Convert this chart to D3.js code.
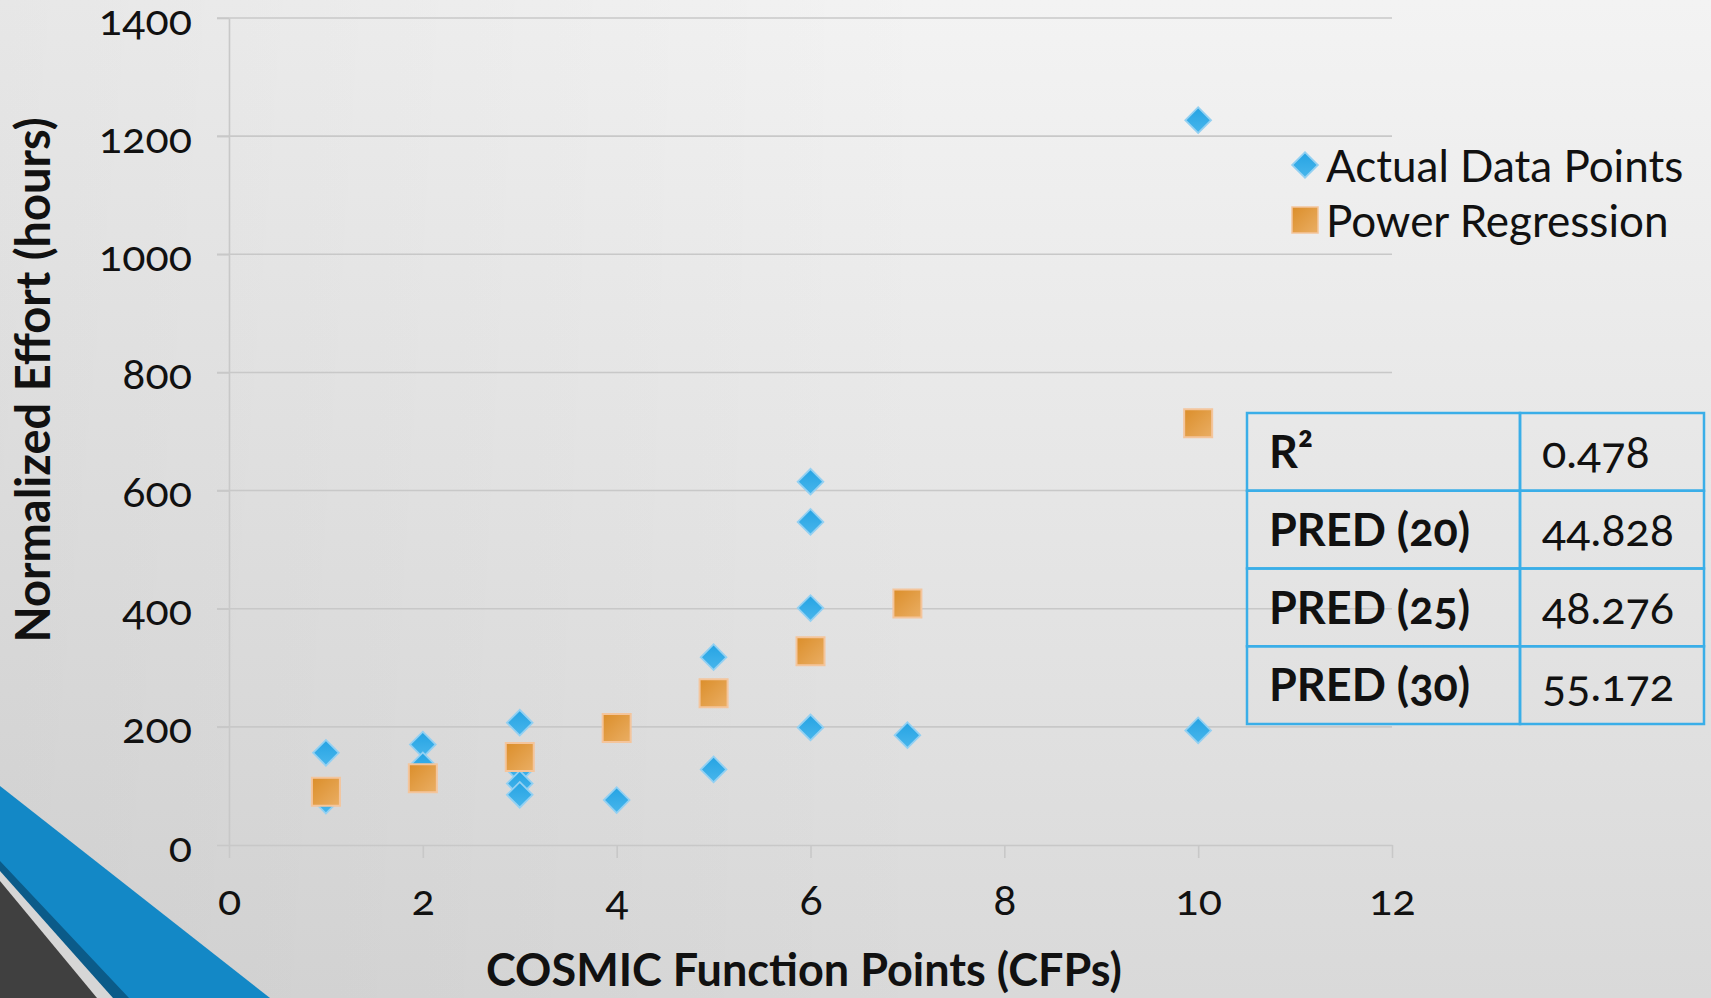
<!DOCTYPE html>
<html>
<head>
<meta charset="utf-8">
<script src="https://cdn.jsdelivr.net/npm/d3@7"></script>
<style>
  html, body { margin: 0; padding: 0; overflow: hidden; background: #e6e6e6; }
  svg { display: block; font-family: Lato, "Open Sans", sans-serif; }
  .num { font-variant-numeric: oldstyle-nums; }
</style>
</head>
<body>
<svg id="chart"></svg>
<script>
const width = 1711;
const height = 998;

// actual observations (CFP, hours)
const actualX = [1, 1, 2, 2, 3, 3, 3, 3, 4, 5, 5, 6, 6, 6, 6, 7, 10, 10];
const actualY = [156, 75, 170, 135, 207, 127, 104, 85, 76, 318, 128, 615, 547, 401, 199, 186, 1227, 194];

// power regression estimates
const regX = [1, 2, 3, 4, 5, 6, 7, 10];
const regY = [90, 113, 149, 198, 257, 328, 409, 714];

const xTicks = [0, 2, 4, 6, 8, 10, 12];
const yTicks = [0, 200, 400, 600, 800, 1000, 1200, 1400];

const legendLabels = ["Actual Data Points", "Power Regression"];
const statNames = ["R²", "PRED (20)", "PRED (25)", "PRED (30)"];
const statValues = ["0.478", "44.828", "48.276", "55.172"];

const svg = d3.select("#chart").attr("width", width).attr("height", height);
const defs = svg.append("defs");

// background
const bg = defs.append("linearGradient").attr("id", "bg").attr("x1", 0).attr("y1", 0).attr("x2", 0).attr("y2", 1);
bg.append("stop").attr("offset", 0).attr("stop-color", "#f3f3f3");
bg.append("stop").attr("offset", 1).attr("stop-color", "#d9d9d9");
const shade = defs.append("linearGradient").attr("id", "shade").attr("x1", 0).attr("y1", 0).attr("x2", 1).attr("y2", 0);
shade.append("stop").attr("offset", 0).attr("stop-color", "#000").attr("stop-opacity", 0.05);
shade.append("stop").attr("offset", 0.55).attr("stop-color", "#000").attr("stop-opacity", 0);

svg.append("rect").attr("width", width).attr("height", height).attr("fill", "url(#bg)");
svg.append("rect").attr("width", width).attr("height", height).attr("fill", "url(#shade)");

// marker fills
const blueGrad = defs.append("linearGradient").attr("id", "blueFill").attr("x1", 0).attr("y1", 0).attr("x2", 1).attr("y2", 1);
blueGrad.append("stop").attr("offset", 0).attr("stop-color", "#25a3e3");
blueGrad.append("stop").attr("offset", 1).attr("stop-color", "#48b6ec");
const orangeGrad = defs.append("linearGradient").attr("id", "orangeFill").attr("x1", 0).attr("y1", 0).attr("x2", 1).attr("y2", 1);
orangeGrad.append("stop").attr("offset", 0).attr("stop-color", "#db8e2a");
orangeGrad.append("stop").attr("offset", 1).attr("stop-color", "#eaae64");

// corner decoration (slide theme)
const corner = svg.append("g");
corner.append("polygon").attr("points", "0,786 270,998 0,998").attr("fill", "#1388c6");
corner.append("polygon").attr("points", "0,861 129,998 0,998").attr("fill", "#0b5b89");
corner.append("polygon").attr("points", "0,871 113,998 0,998").attr("fill", "#d6d6d6");
corner.append("polygon").attr("points", "0,881 97,998 0,998").attr("fill", "#404040");

const x = d3.scaleLinear().domain([0, 12]).range([229, 1392]);
const y = d3.scaleLinear().domain([0, 1400]).range([845, 18]);

const gridColor = "#c8c8c8";

// horizontal gridlines
svg.append("g")
  .selectAll("line")
  .data(yTicks.filter(d => d > 0))
  .join("line")
  .attr("x1", x(0) - 12)
  .attr("x2", x(12))
  .attr("y1", d => y(d))
  .attr("y2", d => y(d))
  .attr("stroke", gridColor)
  .attr("stroke-width", 1.6);

// axes
const yAxis = svg.append("g")
  .attr("transform", `translate(${x(0)},0)`)
  .call(d3.axisLeft(y).tickValues(yTicks).tickFormat(d3.format("d"))
    .tickSize(12).tickPadding(25).tickSizeOuter(0));
const xAxis = svg.append("g")
  .attr("transform", `translate(0,${y(0)})`)
  .call(d3.axisBottom(x).tickValues(xTicks).tickFormat(d3.format("d"))
    .tickSize(13).tickSizeOuter(0));

[yAxis, xAxis].forEach(g => {
  g.attr("font-family", null).attr("font-size", null);
  g.select(".domain").attr("stroke", gridColor).attr("stroke-width", 1.6);
  g.selectAll(".tick line").attr("stroke", gridColor).attr("stroke-width", 1.6);
  g.selectAll("text")
    .attr("class", "num")
    .attr("fill", "#111")
    .attr("font-size", 43);
});
yAxis.selectAll("text").attr("dy", 16);
xAxis.selectAll("text").attr("dy", null).attr("y", 70);

// axis titles
svg.append("text")
  .attr("transform", `translate(50,380) rotate(-90)`)
  .attr("text-anchor", "middle")
  .attr("font-weight", 700)
  .attr("font-size", 47)
  .attr("fill", "#111")
  .text("Normalized Effort (hours)");

svg.append("text")
  .attr("x", 804)
  .attr("y", 986)
  .attr("text-anchor", "middle")
  .attr("font-weight", 700)
  .attr("font-size", 45)
  .attr("fill", "#111")
  .text("COSMIC Function Points (CFPs)");

// markers
const diamond = d3.symbol().type(d3.symbolSquare).size(330);
const square = d3.symbol().type(d3.symbolSquare).size(784);

const actual = actualX.map((v, i) => ({ x: v, y: actualY[i] }));
const reg = regX.map((v, i) => ({ x: v, y: regY[i] }));

svg.append("g")
  .selectAll("path")
  .data(actual)
  .join("path")
  .attr("d", diamond)
  .attr("transform", d => `translate(${x(d.x)},${y(d.y)}) rotate(45)`)
  .attr("fill", "url(#blueFill)")
  .attr("stroke", "#93d0f2")
  .attr("stroke-width", 1.8);

svg.append("g")
  .selectAll("path")
  .data(reg)
  .join("path")
  .attr("d", square)
  .attr("transform", d => `translate(${x(d.x)},${y(d.y)})`)
  .attr("fill", "url(#orangeFill)")
  .attr("stroke", "#f4c59c")
  .attr("stroke-width", 2);

// legend
const legend = svg.append("g");
const legendRows = legend.selectAll("g")
  .data(legendLabels)
  .join("g")
  .attr("transform", (d, i) => `translate(1305,${165 + i * 55})`);
legendRows.filter((d, i) => i === 0).append("path")
  .attr("d", diamond)
  .attr("transform", "rotate(45)")
  .attr("fill", "url(#blueFill)")
  .attr("stroke", "#93d0f2")
  .attr("stroke-width", 1.8);
legendRows.filter((d, i) => i === 1).append("path")
  .attr("d", d3.symbol().type(d3.symbolSquare).size(676))
  .attr("fill", "url(#orangeFill)")
  .attr("stroke", "#f4c59c")
  .attr("stroke-width", 1.5);
legendRows.append("text")
  .attr("x", 21)
  .attr("y", 17)
  .attr("font-size", 44)
  .attr("fill", "#111")
  .text(d => d);

// stats table
const rowY = d3.scaleBand().domain(statNames).range([413, 724]);
const colX = [1247, 1520, 1704];
const table = svg.append("g");
const rows = table.selectAll("g")
  .data(statNames)
  .join("g")
  .attr("transform", d => `translate(0,${rowY(d)})`);
rows.append("rect")
  .attr("x", colX[0])
  .attr("width", colX[1] - colX[0])
  .attr("height", rowY.bandwidth())
  .attr("fill", "none")
  .attr("stroke", "#3aaee8")
  .attr("stroke-width", 2.5);
rows.append("rect")
  .attr("x", colX[1])
  .attr("width", colX[2] - colX[1])
  .attr("height", rowY.bandwidth())
  .attr("fill", "none")
  .attr("stroke", "#3aaee8")
  .attr("stroke-width", 2.5);
rows.append("text")
  .attr("class", "num")
  .attr("x", colX[0] + 22)
  .attr("y", 55)
  .attr("font-size", 45)
  .attr("font-weight", 700)
  .attr("fill", "#111")
  .text(d => d);
rows.append("text")
  .attr("class", "num")
  .attr("x", colX[1] + 22)
  .attr("y", 55)
  .attr("font-size", 45)
  .attr("fill", "#111")
  .text((d, i) => statValues[i]);
</script>
</body>
</html>
